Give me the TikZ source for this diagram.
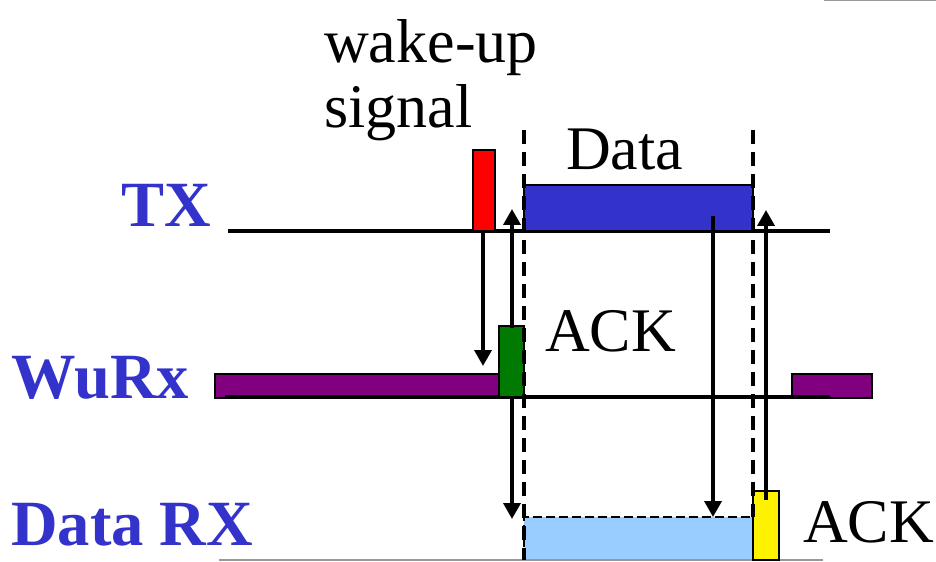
\documentclass[tikz,border=0pt]{standalone}
\usepackage{fontspec}
\setmainfont{Liberation Serif}
\usetikzlibrary{arrows.meta}
\definecolor{lblblue}{HTML}{3333CC}
\definecolor{txblue}{HTML}{3333CC}
\definecolor{wpurple}{HTML}{800080}
\definecolor{ackgreen}{HTML}{007A00}
\definecolor{rxblue}{HTML}{99CCFF}
\definecolor{axgray}{HTML}{999999}
\tikzset{
  axis/.style={line width=3.6bp, black},
  slot/.style={draw=black, line width=2bp},
  guide/.style={line width=3.4bp, dash pattern=on 14bp off 8bp},
  sig/.style={line width=3.6bp, -{Triangle[length=16bp,width=17bp]}},
  rowlbl/.style={anchor=base west, inner sep=0pt, text=lblblue, font=\fontsize{64.5bp}{68bp}\selectfont\bfseries},
  txt/.style={anchor=base west, inner sep=0pt, font=\fontsize{62bp}{65bp}\selectfont}
}
\begin{document}
\begin{tikzpicture}[x=1bp,y=-1bp]
\useasboundingbox (0,0) rectangle (936,562);
% row labels
\node[rowlbl] (ltx) at (121,227) {TX};
\node[rowlbl] (lwu) at (11,398) {WuRx};
\node[rowlbl] (lrx) at (11,545) {Data RX};
% other texts
\node[txt] (wake) at (324,63) {wake-up};
\node[txt] (signal) at (324,128) {signal};
\node[txt] (data) at (566,170) {Data};
\node[txt] (ack1) at (545,352) {ACK};
\node[txt] (ack2) at (803,542) {ACK};
% slot rectangles
\fill[wpurple] (215,374) rectangle (499,398);
\draw[slot] (215,374) rectangle (499,398);
\fill[wpurple] (792,374) rectangle (872,398);
\draw[slot] (792,374) rectangle (872,398);
\fill[rxblue] (524,517) rectangle (753,560);
\draw[line width=2bp, dash pattern=on 9bp off 4bp] (524,560) -- (524,517) -- (753,517);
% axes
\draw[axis] (228,231) -- (830,231);
\draw[axis] (225,397) -- (830,397);
\draw[axgray, line width=2bp] (219,560) -- (823,560);
\draw[axgray, line width=2bp] (824,0.5) -- (936,0.5);
% signal boxes
\draw[slot, fill=red] (473,150) rectangle (495,231);
\draw[slot, fill=txblue] (524,185) rectangle (753,231);
\draw[slot, fill=ackgreen] (499,326) rectangle (524,397);
\draw[slot, fill=yellow] (753,491) rectangle (779,560);
% dashed guides
\draw[guide] (524,130) -- (524,560);
\draw[guide] (753,130) -- (753,517);
% arrow end points
\coordinate (redb) at (483,231);
\coordinate (redt) at (483,366);
\coordinate (gtop) at (512,328);
\coordinate (gtip) at (512,209);
\coordinate (wub) at (512,397);
\coordinate (wutip) at (512,519);
\coordinate (dstart) at (713,216);
\coordinate (dtip) at (713,517);
\coordinate (ystart) at (766,500);
\coordinate (ytip) at (766,210);
% arrows
\draw[sig] (redb) -- (redt);
\draw[sig] (gtop) -- (gtip);
\draw[sig] (wub) -- (wutip);
\draw[sig] (dstart) -- (dtip);
\draw[sig] (ystart) -- (ytip);
\end{tikzpicture}
\end{document}
